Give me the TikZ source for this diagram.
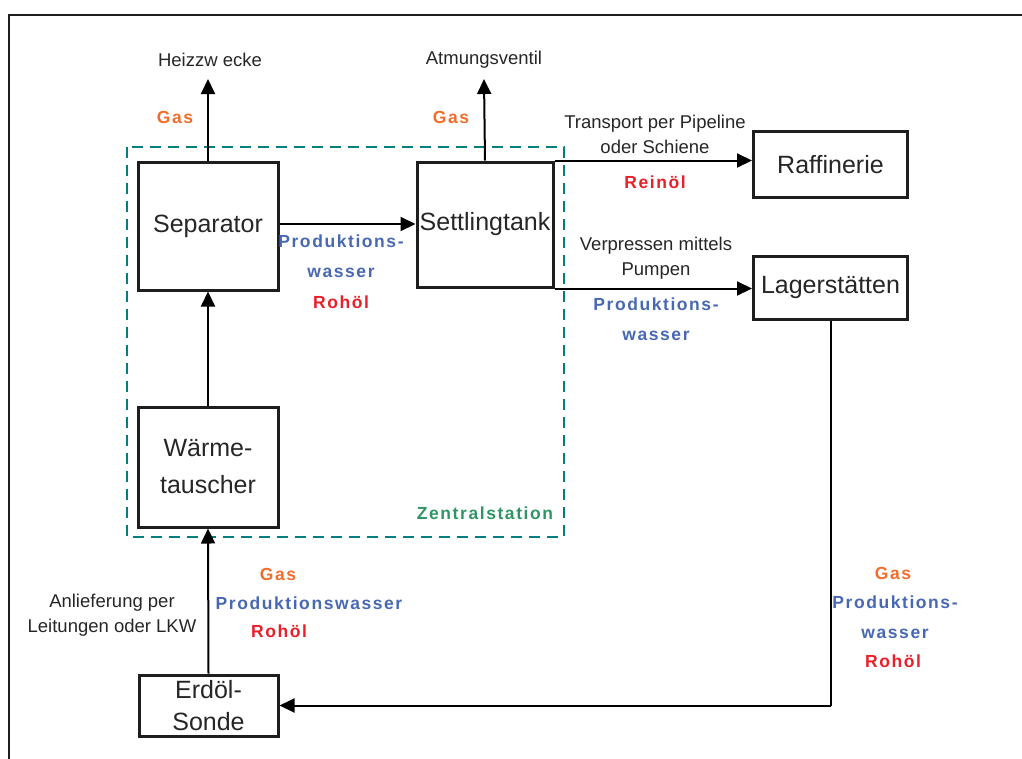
\documentclass[tikz,border=0pt]{standalone}
\usepackage{fontspec}
\setmainfont{Liberation Sans}
\newfontfamily\bsp{Liberation Sans}[LetterSpace=9]
\usetikzlibrary{arrows.meta}
\definecolor{gasorange}{RGB}{242,108,42}
\definecolor{wasblue}{RGB}{72,104,178}
\definecolor{oilred}{RGB}{232,32,40}
\definecolor{zgreen}{RGB}{46,150,100}
\definecolor{zteal}{RGB}{0,128,128}
\definecolor{framegray}{RGB}{30,30,30}
\tikzset{
  box/.style={draw=framegray, line width=3pt, inner sep=0pt, align=center,
    font=\fontsize{25}{37}\selectfont, text=black!85},
  flow/.style={line width=2pt, -{Triangle[length=15pt,width=14pt]}},
  note/.style={font=\fontsize{18.5}{25}\selectfont, text=black!85, align=center, inner sep=0pt},
  gas/.style={font=\bsp\bfseries\fontsize{17.5}{29}\selectfont, text=gasorange, inner sep=0pt},
  wat/.style={font=\bsp\bfseries\fontsize{17.5}{30}\selectfont, text=wasblue, inner sep=0pt, align=center},
  oil/.style={font=\bsp\bfseries\fontsize{17.5}{29}\selectfont, text=oilred, inner sep=0pt},
}
\begin{document}
\begin{tikzpicture}[x=1pt,y=-1pt]
\path[use as bounding box] (0,0) rectangle (1022,758);
\begin{scope}
\clip (0,0) rectangle (1022,758);
\draw[framegray, line width=1.8pt] (9,15) rectangle (1060,800);
\end{scope}
% Zentralstation
\draw[zteal, line width=2.6pt, dash pattern=on 11pt off 7pt] (127,147) rectangle (564,537);
\node[font=\bsp\bfseries\fontsize{17.5}{20}\selectfont, text=zgreen, inner sep=0pt] (zlab) at (485,513) {Zentralstation};
% boxes
\node[box, minimum width=140pt, minimum height=128pt] (sep) at (208,226) {Separator};
\node[box, minimum width=136pt, minimum height=125pt] (set) at (485,224.5) {Settlingtank};
\node[box, minimum width=140pt, minimum height=120pt] (waer) at (208,467) {Wärme-\\tauscher};
\node[box, minimum width=154pt, minimum height=66pt] (raf) at (830.5,164.5) {Raffinerie};
\node[box, minimum width=154pt, minimum height=63pt] (lag) at (830.5,287.5) {Lagerstätten};
\node[box, minimum width=139pt, minimum height=61pt, font=\fontsize{25}{32}\selectfont] (sonde) at (208.5,705.5) {Erdöl-\\Sonde};
% outlets
\node[note] (heiz) at (210,60) {Heizzw ecke};
\node[note] (atm) at (484,60) {Atmungsventil};
\coordinate (heizin) at (208,79);
\coordinate (atmin) at (484,79);
\draw[flow] (sep.north) -- (heizin);
\draw[flow] (set.north) -- (atmin);
\node[gas] (g1) at (175,117) {Gas};
\node[gas] (g2) at (451,117) {Gas};
% internal flows
\draw[flow] (sep.east |- 0,224) -- (set.west |- 0,224);
\node[wat] (pw1) at (341,256) {Produktions-\\wasser};
\node[oil] (r1) at (341,302) {Rohöl};
\draw[flow] (waer.north) -- (sep.south);
\draw[flow] (sonde.north) -- (waer.south);
% outgoing
\draw[flow] (set.north east) -- (set.north east -| raf.west);
\node[note] (tr) at (655,134.5) {Transport per Pipeline\\oder Schiene};
\node[oil] (r2) at (655,182) {Reinöl};
\draw[flow] (set.south east) -- (set.south east -| lag.west);
\node[note] (vp) at (656,258.5) {Verpressen mittels\\Pumpen};
\node[wat] (pw2) at (656,319.5) {Produktions-\\wasser};
% return
\coordinate (corner) at (lag.south |- sonde.east);
\draw[line width=2pt] (lag.south) -- (corner);
\draw[flow] (corner) -- (sonde.east);
% input labels
\node[note] (anl) at (112,615.5) {Anlieferung per\\Leitungen oder LKW};
\node[gas] (g3) at (278,574) {Gas};
\node[wat] (pw3) at (309,603) {Produktionswasser};
\node[oil] (r3) at (279,631) {Rohöl};
\node[gas] (g4) at (893,573) {Gas};
\node[wat] (pw4) at (895,617.5) {Produktions-\\wasser};
\node[oil] (r4) at (893,661) {Rohöl};
\end{tikzpicture}
\end{document}
